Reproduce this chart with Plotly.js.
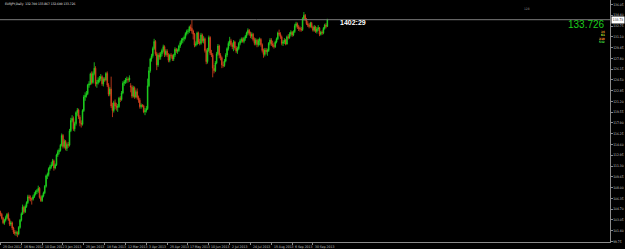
<!DOCTYPE html>
<html><head><meta charset="utf-8">
<script src="https://cdn.plot.ly/plotly-3.0.1.min.js"></script>
<style>html,body{margin:0;padding:0;background:#000;overflow:hidden}#c{width:625px;height:249px}</style>
</head><body><div id="c"></div>
<script>
const chartTitle = 'EURJPY,Daily  132.700 133.867 132.600 133.726';
const openP = [104.20,103.90,103.30,102.60,103.00,103.40,103.90,103.10,102.40,102.60,101.80,101.20,101.00,101.10,100.90,101.90,103.00,104.00,105.00,104.30,
105.10,105.70,106.60,106.40,106.30,106.20,106.60,107.00,107.40,107.50,107.90,106.50,106.00,106.70,107.20,108.20,109.80,110.00,110.90,111.20,
111.50,112.10,111.00,111.50,113.00,113.50,113.70,114.50,116.00,114.30,115.10,114.00,114.60,114.50,116.70,118.30,118.60,117.00,117.80,119.50,
119.90,118.80,117.90,117.70,119.80,121.90,122.10,122.40,123.70,123.90,125.40,124.10,125.50,126.30,123.90,124.10,124.50,124.70,125.00,123.90,
124.60,124.50,125.50,123.70,122.30,123.10,120.50,119.80,121.00,120.50,120.30,120.40,121.70,121.50,122.50,124.00,124.20,124.50,124.60,124.50,
123.60,123.40,122.00,123.30,121.90,122.70,121.80,121.40,120.40,120.60,120.50,119.60,119.80,120.10,123.60,125.90,127.70,128.20,129.30,130.40,
128.50,126.80,128.30,128.00,128.50,129.00,129.60,128.40,128.90,128.30,127.50,128.30,128.20,127.70,128.30,129.20,128.90,129.00,129.70,130.20,
130.60,130.80,131.00,131.60,131.90,132.00,132.60,132.40,132.00,131.50,129.80,130.00,131.70,130.30,130.10,131.40,130.50,130.80,129.00,127.30,
129.00,131.00,128.60,128.30,126.30,125.90,127.10,128.50,129.70,128.30,127.90,126.80,126.70,127.40,128.30,129.30,130.10,130.50,129.90,129.60,
130.30,129.40,128.90,129.30,130.10,130.50,130.70,130.40,130.90,131.20,131.70,132.10,131.60,131.20,131.50,130.70,130.10,130.60,129.90,130.50,
130.70,129.90,129.00,128.40,129.10,128.80,129.00,130.10,130.60,130.00,129.80,129.60,130.30,130.80,131.70,131.50,131.10,130.10,130.30,130.60,
130.00,131.10,131.00,131.50,131.80,131.40,131.90,132.80,133.10,132.60,132.40,132.30,132.20,133.90,134.40,133.80,133.10,132.90,132.70,133.20,
132.60,132.10,132.60,131.90,132.30,132.50,131.50,131.80,131.70,132.40,132.90,132.70];
const highP = [104.45,104.10,103.50,103.20,103.70,104.10,104.20,103.30,102.90,102.80,102.00,101.50,101.40,101.30,102.10,103.20,104.20,105.40,105.20,105.40,
105.90,106.90,106.90,106.80,106.50,106.90,107.30,107.60,107.80,108.30,108.10,106.80,106.90,107.40,108.40,110.00,110.30,111.10,111.50,111.90,
112.40,112.30,111.70,113.20,113.80,114.00,114.70,116.30,116.20,115.40,115.30,114.90,115.00,117.00,118.70,119.10,118.90,118.10,119.70,120.20,
120.10,119.10,118.30,120.00,122.20,122.60,122.80,123.90,124.30,125.60,125.80,125.80,127.20,126.60,124.50,124.90,125.10,125.40,125.20,124.90,
124.90,125.70,125.80,124.00,123.40,125.00,121.00,121.30,121.50,121.00,120.80,121.90,122.00,122.80,124.30,124.50,124.80,125.00,124.90,125.20,
124.00,123.70,123.60,123.50,123.00,123.20,122.10,121.70,120.90,120.80,120.70,120.20,120.50,124.70,126.50,127.90,128.50,129.60,130.80,130.60,
128.80,128.60,128.70,128.80,129.30,129.90,129.80,129.20,129.20,128.60,128.50,128.60,128.40,128.50,129.50,129.40,129.30,129.90,130.50,130.90,
131.00,131.30,131.80,132.20,132.30,132.80,133.00,133.70,132.20,131.70,130.40,131.90,131.90,130.80,131.70,131.60,131.20,131.00,129.30,129.40,
131.30,131.20,129.10,128.60,126.80,127.40,128.80,130.00,129.90,128.60,128.10,127.30,127.70,128.60,129.50,130.40,131.10,130.80,130.20,130.60,
130.50,129.70,129.60,130.30,130.80,131.00,131.00,131.10,131.40,131.90,132.40,132.30,131.90,131.80,131.70,131.00,130.90,130.80,130.80,131.00,
130.90,130.10,129.30,129.40,129.40,129.30,130.30,130.90,130.90,130.50,130.20,130.50,131.00,131.90,132.20,131.80,131.30,130.60,130.90,130.80,
131.30,131.50,131.80,132.10,132.00,132.10,133.10,133.40,133.30,132.90,132.70,132.60,134.10,134.90,134.60,134.00,133.50,133.20,133.40,133.40,
132.80,132.90,132.80,132.60,132.90,132.60,132.00,132.10,132.60,133.10,133.20,133.867];
const lowP = [103.60,103.10,102.40,102.30,102.80,103.20,102.90,102.10,102.10,101.50,100.90,100.70,100.60,100.40,100.70,101.70,102.80,103.80,104.00,104.10,
104.90,105.50,106.00,105.90,105.40,106.00,106.40,106.80,107.00,107.20,106.30,105.80,105.80,106.50,107.00,108.00,109.30,109.70,110.60,110.90,
111.30,110.60,110.80,111.30,112.70,113.10,113.50,114.30,114.00,114.00,113.70,113.60,114.10,114.30,116.50,118.00,116.70,116.60,117.50,119.00,
118.50,117.40,117.20,117.50,119.60,121.30,121.80,122.20,123.30,123.70,123.80,123.90,125.20,123.50,123.30,123.80,124.10,124.30,123.60,123.50,
124.20,124.30,123.40,122.00,122.00,120.20,118.80,119.50,120.00,119.80,119.60,120.20,121.10,121.30,122.30,123.60,123.90,124.00,124.10,124.20,
122.60,121.70,121.80,121.60,121.70,121.50,121.00,120.10,120.10,120.30,119.40,119.10,119.50,119.90,123.40,125.60,127.30,127.90,129.10,128.20,
126.00,126.50,127.60,127.60,128.10,128.70,128.00,128.10,128.00,127.20,127.20,127.80,127.40,127.40,128.00,128.60,128.50,128.80,129.40,129.90,
130.10,130.40,130.70,131.30,131.50,131.70,132.00,131.60,130.70,129.50,129.60,129.80,130.00,129.80,129.90,130.20,130.10,128.70,126.90,127.00,
128.80,128.30,128.00,124.90,125.50,125.70,126.90,128.20,127.80,127.50,126.30,126.40,126.50,127.20,128.00,129.00,129.70,129.60,129.20,128.90,
129.10,128.60,128.50,129.10,129.80,130.20,130.20,130.10,130.50,130.90,131.40,131.30,130.90,130.80,130.40,129.80,129.80,129.50,129.60,129.80,
129.60,128.70,127.90,128.10,128.40,128.20,128.80,129.80,129.70,129.50,129.30,129.40,130.10,130.60,131.20,130.80,129.80,129.70,130.00,129.80,
129.90,130.70,130.80,131.20,131.10,131.20,131.70,132.50,132.30,132.00,131.90,131.90,132.00,133.60,133.50,132.90,132.60,132.40,132.50,132.40,
131.90,131.90,131.70,131.60,132.00,131.20,131.30,131.40,131.50,132.20,132.40,132.60];
const closeP = [103.90,103.30,102.60,103.00,103.40,103.90,103.10,102.40,102.60,101.80,101.20,101.00,101.10,100.90,101.90,103.00,104.00,105.00,104.30,105.10,
105.70,106.60,106.40,106.30,106.20,106.60,107.00,107.40,107.50,107.90,106.50,106.00,106.70,107.20,108.20,109.80,110.00,110.90,111.20,111.50,
112.10,111.00,111.50,113.00,113.50,113.70,114.50,116.00,114.30,115.10,114.00,114.60,114.50,116.70,118.30,118.60,117.00,117.80,119.50,119.90,
118.80,117.90,117.70,119.80,121.90,122.10,122.40,123.70,123.90,125.40,124.10,125.50,126.30,123.90,124.10,124.50,124.70,125.00,123.90,124.60,
124.50,125.50,123.70,122.30,123.10,120.50,119.80,121.00,120.50,120.30,120.40,121.70,121.50,122.50,124.00,124.20,124.50,124.60,124.50,124.80,
123.40,122.00,123.30,121.90,122.70,121.80,121.40,120.40,120.60,120.50,119.60,119.80,120.10,123.60,125.90,127.70,128.20,129.30,130.40,128.50,
126.80,128.30,128.00,128.50,129.00,129.60,128.40,128.90,128.30,127.50,128.30,128.20,127.70,128.30,129.20,128.90,129.00,129.70,130.20,130.60,
130.80,131.00,131.60,131.90,132.00,132.60,132.40,132.00,131.50,129.80,130.00,131.70,130.30,130.10,131.40,130.50,130.80,129.00,127.30,129.00,
131.00,128.60,128.30,126.30,125.90,127.10,128.50,129.70,128.30,127.90,126.80,126.70,127.40,128.30,129.30,130.10,130.50,129.90,129.60,130.30,
129.40,128.90,129.30,130.10,130.50,130.70,130.40,130.90,131.20,131.70,132.10,131.60,131.20,131.50,130.70,130.10,130.60,129.90,130.50,130.70,
129.90,129.00,128.40,129.10,128.80,129.00,130.10,130.60,130.00,129.80,129.60,130.30,130.80,131.70,131.50,131.10,130.10,130.30,130.60,130.00,
131.10,131.00,131.50,131.80,131.40,131.90,132.80,133.10,132.60,132.40,132.30,132.20,133.90,134.40,133.80,133.10,132.90,132.70,133.20,132.60,
132.10,132.60,131.90,132.30,132.50,131.50,131.80,131.70,132.40,132.90,132.70,133.726];
const dateLabels = ['25 Oct 2012','16 Nov 2012','10 Dec 2012','3 Jan 2013','25 Jan 2013','18 Feb 2013','12 Mar 2013','3 Apr 2013',
'25 Apr 2013','17 May 2013','10 Jun 2013','2 Jul 2013','24 Jul 2013','15 Aug 2013','6 Sep 2013','30 Sep 2013'];
const priceTicks = [136.05,134.40,132.75,131.10,129.45,127.80,126.15,124.50,122.85,121.20,119.55,117.90,
116.25,114.60,112.95,111.30,109.65,108.00,106.35,104.70,103.05,101.40,99.75];
const lastPrice = 133.726;
const timerText = '1402:29';
const cornerText = '128';
const infoTexts = ['26','61','210','542'];
const infoColors = ['#d88a20','#b8e030','#ff9a30','#44e044'];

const PW = 610, PH = 242;
const px = x => x / PW;
const py = y => (PH - y) / PH;
const barsPerLabel = 16;
const smallFont = 'DejaVu Sans Condensed, DejaVu Sans';

const annotations = [];
dateLabels.forEach((t, k) => annotations.push({
  x: k * barsPerLabel, xref: 'x', y: 0, yref: 'paper', xanchor: 'left', yanchor: 'top',
  yshift: -1, xshift: 0.5, text: t, showarrow: false,
  font: {family: smallFont, size: 3.4, color: '#c8c8c8'}
}));
annotations.push({x: px(3), y: py(3.5), xref: 'paper', yref: 'paper', xanchor: 'left', yanchor: 'middle',
  text: chartTitle, showarrow: false, font: {family: smallFont, size: 3.2, color: '#e8e8e8'}});
annotations.push({x: px(527), y: py(9), xref: 'paper', yref: 'paper', xanchor: 'center', yanchor: 'middle',
  text: cornerText, showarrow: false, font: {family: smallFont, size: 3.2, color: '#8c8c8c'}});
annotations.push({x: px(607), y: py(24), xref: 'paper', yref: 'paper', xanchor: 'right', yanchor: 'middle',
  text: lastPrice.toFixed(3), showarrow: false, font: {family: 'Liberation Sans, Arial', size: 10, color: '#1ccc1c'}});
const infoY = [32.2, 35.4, 38.6, 41.8];
infoTexts.forEach((t, k) => annotations.push({x: px(607), y: py(infoY[k]), xref: 'paper', yref: 'paper',
  xanchor: 'right', yanchor: 'middle', text: '<b>' + t + '</b>', showarrow: false,
  font: {family: smallFont, size: 3.0, color: infoColors[k]}}));
annotations.push({x: px(338), y: py(22.5), xref: 'paper', yref: 'paper', xanchor: 'left', yanchor: 'middle',
  text: '<b>' + timerText + '</b>', showarrow: false, font: {family: 'Liberation Sans, Arial', size: 7, color: '#ffffff'}});
annotations.push({x: 1, xref: 'paper', y: lastPrice, yref: 'y', xanchor: 'left', yanchor: 'middle', xshift: 0.5,
  text: lastPrice.toFixed(2), showarrow: false, bgcolor: '#ffffff', borderpad: 0.8,
  font: {family: smallFont, size: 3.3, color: '#000000'}});

const trace = {
  type: 'candlestick', open: openP, high: highP, low: lowP, close: closeP,
  increasing: {line: {color: '#20d820', width: 0.8}, fillcolor: '#20d820'},
  decreasing: {line: {color: '#d8421e', width: 0.8}, fillcolor: '#d8421e'},
  whiskerwidth: 0, hoverinfo: 'skip', showlegend: false
};

const layout = {
  width: 625, height: 249,
  margin: {l: 0, r: 15, t: 0, b: 7, pad: 0},
  paper_bgcolor: '#000000', plot_bgcolor: '#000000',
  showlegend: false,
  xaxis: {
    range: [-0.38, 468.1], showgrid: false, zeroline: false,
    showline: true, linecolor: '#8a8a8a', linewidth: 1,
    ticks: 'outside', ticklen: 2, tickcolor: '#8a8a8a', tickwidth: 1,
    tickvals: dateLabels.map((d, k) => k * barsPerLabel), showticklabels: false,
    rangeslider: {visible: false}, fixedrange: true
  },
  yaxis: {
    side: 'right', range: [99.666, 136.744], showgrid: false, zeroline: false,
    showline: true, linecolor: '#8a8a8a', linewidth: 1, mirror: false,
    ticks: 'outside', ticklen: 1.5, tickcolor: '#8a8a8a', tickwidth: 1,
    tickvals: priceTicks, ticktext: priceTicks.map(v => v.toFixed(2)),
    tickfont: {family: smallFont, size: 3.3, color: '#c8c8c8'},
    fixedrange: true
  },
  shapes: [{type: 'line', xref: 'paper', x0: 0, x1: 1, yref: 'y', y0: lastPrice, y1: lastPrice,
    line: {color: '#7c7c7c', width: 1}}],
  annotations: annotations
};

Plotly.newPlot('c', [trace], layout, {staticPlot: true, displayModeBar: false});
</script>
</body></html>
